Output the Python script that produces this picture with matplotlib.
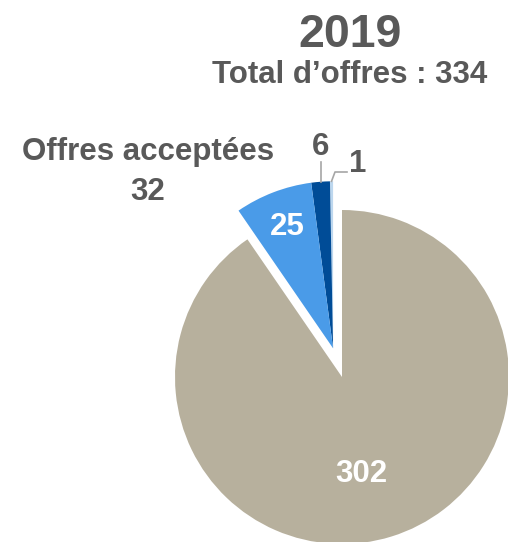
import numpy as np
import matplotlib
matplotlib.use('Agg')
import matplotlib.pyplot as plt

plt.rcParams['font.family'] = ['Liberation Sans', 'DejaVu Sans']

# données
annee = '2019'
total = 334
parts = [1, 6, 25, 302]          # sens anti-horaire depuis midi
couleurs = ['#BDD7EE', '#004C97', '#4A9BE8', '#B7B09D']
acceptees = 32                   # 1 + 6 + 25
n_acc = 3                        # les 3 premières parts sont détachées
gris = '#595959'

# 1 unité = 167 px, centre du camembert à (342, 377) px
R = 167.0
cx, cy = 342.0, 377.0
W, H = 508, 542

fig = plt.figure(figsize=(W/100, H/100), dpi=100)
ax = fig.add_axes([0, 0, 1, 1])

wedges, _ = ax.pie(parts, colors=couleurs, startangle=90, counterclock=True,
                   radius=1, wedgeprops=dict(linewidth=0))

# détacher le groupe "offres acceptées"
ang = np.deg2rad(90 + sum(parts[:n_acc]) / sum(parts) * 360 / 2)
dist = 0.18
dx, dy = dist * np.cos(ang), dist * np.sin(ang)
for w in wedges[:n_acc]:
    w.set_center((dx, dy))

ax.set_xlim(-cx/R, (W-cx)/R)
ax.set_ylim(-(H-cy)/R, cy/R)
ax.set_aspect('auto')
ax.axis('off')

def px(x, y):
    return ((x-cx)/R, (cy-y)/R)

fs = 22.5
# titre
ax.text(*px(350, 47), annee, ha='center', va='baseline', fontsize=33.5,
        fontweight='bold', color=gris)
ax.text(*px(350, 83), 'Total d\u2019offres : %d' % total, ha='center',
        va='baseline', fontsize=fs, fontweight='bold', color=gris)
ax.text(*px(148, 160), 'Offres acceptées', ha='center', va='baseline',
        fontsize=fs, fontweight='bold', color=gris)
ax.text(*px(148, 200), str(acceptees), ha='center', va='baseline',
        fontsize=fs, fontweight='bold', color=gris)

# étiquettes internes
ax.text(*px(287, 235), str(parts[2]), ha='center', va='baseline',
        fontsize=fs, fontweight='bold', color='white')
ax.text(*px(361, 482), str(parts[3]), ha='center', va='baseline',
        fontsize=fs, fontweight='bold', color='white')

# étiquettes externes avec lignes de rappel
def bord(i):
    th1, th2 = wedges[i].theta1, wedges[i].theta2
    t = np.deg2rad((th1 + th2) / 2)
    c = wedges[i].center
    return c[0] + np.cos(t), c[1] + np.sin(t)

x6, y6 = bord(1)
ax.plot([x6, x6], [y6, px(0, 162)[1]], color='#A6A6A6', lw=1.2)
ax.text(x6, px(0, 155)[1], str(parts[1]), ha='center', va='baseline',
        fontsize=fs, fontweight='bold', color=gris)

x1, y1 = bord(0)
p1 = px(335, 172)
p2 = px(347, 172)
ax.plot([x1, p1[0], p2[0]], [y1, p1[1], p2[1]], color='#A6A6A6', lw=1.2)
ax.text(*px(358, 172), str(parts[0]), ha='center', va='baseline',
        fontsize=fs, fontweight='bold', color=gris)

fig.savefig('out.png', dpi=100)
